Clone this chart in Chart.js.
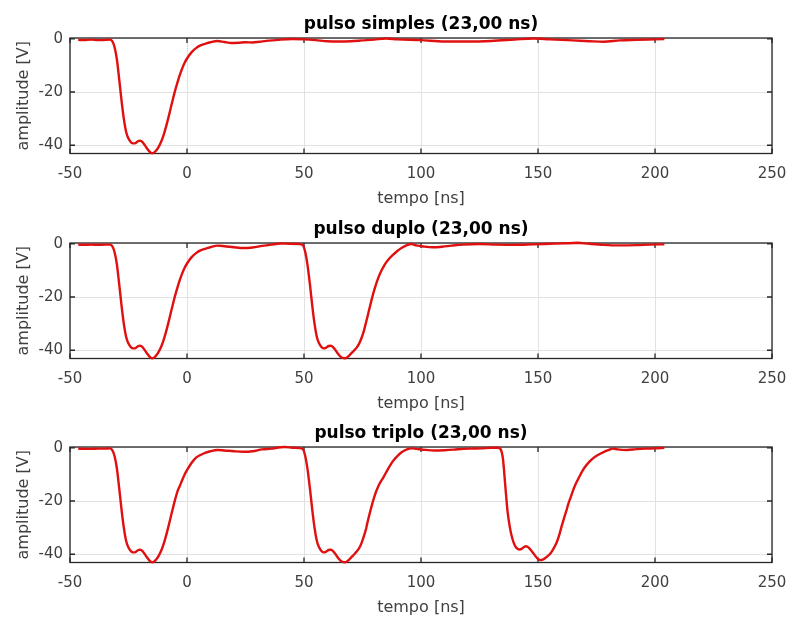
<!DOCTYPE html>
<html>
<head>
<meta charset="utf-8">
<script src="https://cdn.jsdelivr.net/npm/chart.js@4.4.1/dist/chart.umd.min.js"></script>
<style>
  html, body { margin: 0; padding: 0; background: #fff; overflow: hidden; }
  .painel { position: absolute; left: 0; width: 789px; height: 210px; }
</style>
</head>
<body>
<div class="painel" style="top:0px"><canvas id="graf1" width="789" height="210"></canvas></div>
<div class="painel" style="top:205px"><canvas id="graf2" width="789" height="210"></canvas></div>
<div class="painel" style="top:409px"><canvas id="graf3" width="789" height="210"></canvas></div>
<script>
const xTicks = [-50, 0, 50, 100, 150, 200, 250];
const yTicks = [-40, -20, 0];
const titulos = ['pulso simples (23,00 ns)', 'pulso duplo (23,00 ns)', 'pulso triplo (23,00 ns)'];

const tempoSimples = [-46.5,-44,-41,-38,-35,-33,-32,-31,-30,-29,-28,-27,-26,-25,-24,-23,-22,-21,-20,-19,-18,-17,-16,-15,-14,-13,-12,-11,-10,-9,-8,-7,-6,-5,-4,-3,-2,-1,0,2,4,6,8,10,13,16,19,22,25,28,31,35,40,45,50,55,60,65,70,75,80,85,90,100,110,120,130,140,148,155,165,172,178,185,192,200,204];
const ampSimples = [-0.4,-0.5,-0.3,-0.5,-0.4,-0.3,-0.8,-3,-7.5,-15,-23,-30,-35,-37.5,-38.8,-39.3,-39.2,-38.5,-38.3,-38.8,-40,-41.3,-42.4,-43,-42.7,-41.8,-40.4,-38.6,-36.2,-33.2,-29.8,-26.2,-22.6,-19.2,-16.2,-13.4,-11,-9,-7.4,-5,-3.4,-2.4,-1.8,-1.3,-0.8,-1.2,-1.6,-1.5,-1.3,-1.4,-1.1,-0.7,-0.3,-0.1,-0.2,-0.5,-0.9,-1,-0.9,-0.6,-0.3,0.1,-0.2,-0.5,-1,-1,-0.8,-0.3,0.1,-0.2,-0.6,-0.9,-1.1,-0.6,-0.4,-0.2,-0.1];

const tempoDuplo = [-46.5,-44,-41,-38,-35,-33,-32,-31,-30,-29,-28,-27,-26,-25,-24,-23,-22,-21,-20,-19,-18,-17,-16,-15,-14,-13,-12,-11,-10,-9,-8,-7,-6,-5,-4,-3,-2,-1,0,2,4,6,8,10,13,16,20,24,28,32,36,40,44,48,49.5,50.5,51.5,52.5,53.5,54.5,55.5,56.5,57.5,58.5,59.5,60.5,61.5,62.5,63.5,64.5,65.5,66.5,67.5,68.5,69.5,70.5,71.5,72.5,73.5,74.5,75.5,76.5,77.5,78.5,79.5,80.5,81.5,82.5,83.5,84.5,86,88,90,92,94,96,98,101,105,109,113,118,125,132,140,148,155,162,167,172,178,185,192,198,204];
const ampDuplo = [-0.3,-0.4,-0.3,-0.4,-0.3,-0.3,-0.8,-3,-7.5,-15,-23,-30,-35,-37.5,-38.8,-39.3,-39.2,-38.5,-38.3,-38.8,-40,-41.3,-42.4,-43,-42.7,-41.8,-40.4,-38.6,-36.2,-33.2,-29.8,-26.2,-22.6,-19.2,-16.2,-13.4,-11,-9,-7.4,-5,-3.4,-2.4,-1.8,-1.3,-0.7,-0.9,-1.3,-1.6,-1.4,-0.8,-0.3,0.1,0,-0.1,-0.5,-3,-8,-15,-23,-30,-35,-37.5,-38.8,-39.3,-39,-38.4,-38.3,-38.9,-40,-41.3,-42.3,-42.9,-43,-42.6,-41.8,-40.9,-40,-39,-37.6,-35.6,-33,-29.6,-26,-22.4,-19,-16,-13.4,-11.2,-9.4,-7.8,-6,-4.2,-2.6,-1.4,-0.5,-0.1,-0.6,-1,-1.3,-1.1,-0.7,-0.3,-0.1,-0.3,-0.4,-0.2,0,0.2,0.4,0,-0.4,-0.6,-0.5,-0.3,-0.2];

const tempoTriplo = [-46.5,-44,-41,-38,-35,-33,-32,-31,-30,-29,-28,-27,-26,-25,-24,-23,-22,-21,-20,-19,-18,-17,-16,-15,-14,-13,-12,-11,-10,-9,-8,-7,-6,-5,-4,-3,-2,-1,0,2,4,6,8,10,13,16,20,24,28,32,36,40,42,45,48,49.5,50.5,51.5,52.5,53.5,54.5,55.5,56.5,57.5,58.5,59.5,60.5,61.5,62.5,63.5,64.5,65.5,66.5,67.5,68.5,69.5,70.5,71.5,72.5,73.5,74.5,75.5,76.5,77,80,82,84,86,88,90,92,94,96,98,102,106,110,114,118,122,126,130,133,134,135,136,137,138,139,140,141,142,143,144,145,146,147,148,149,150,151,152,153,154,155,156,157,158,159,160,161,162,163,164,165,166,167,168,169,170,172,174,176,178,180,182,184,188,192,196,200,204];
const ampTriplo = [-0.3,-0.4,-0.4,-0.3,-0.3,-0.2,-0.8,-3,-7.5,-15,-23,-30,-35,-37.5,-38.8,-39.3,-39.2,-38.5,-38.3,-38.8,-40,-41.3,-42.4,-43,-42.7,-41.8,-40.4,-38.6,-36.2,-33.2,-29.8,-26.2,-22.6,-19.2,-16.2,-14.2,-12,-10,-8.4,-5.6,-3.6,-2.6,-1.8,-1.3,-0.8,-1,-1.3,-1.5,-1.3,-0.6,-0.3,0.2,0.3,0,-0.1,-0.5,-3,-8,-15,-23,-30,-35,-37.5,-38.8,-39.3,-39,-38.4,-38.3,-38.9,-40,-41.3,-42.3,-42.9,-43,-42.6,-41.8,-40.9,-40,-39,-37.8,-36,-33.5,-30.5,-28.5,-18.5,-14,-11,-7.8,-5,-3,-1.5,-0.6,-0.2,-0.4,-0.8,-1,-0.9,-0.7,-0.4,-0.3,-0.2,0,0,-0.5,-4,-14,-24,-30,-34,-36.5,-37.8,-38.2,-38,-37.3,-37,-37.5,-38.5,-39.6,-40.8,-41.8,-42.2,-42,-41.5,-40.8,-40,-38.8,-37.3,-35.5,-33,-29.8,-26.8,-24,-21,-18.5,-16,-13.8,-12,-10.3,-8.7,-7.3,-5.2,-3.6,-2.5,-1.6,-0.9,-0.3,-0.6,-0.8,-0.5,-0.3,-0.2,0];

Chart.defaults.font.family = '"DejaVu Sans", sans-serif';

// caixa do eixo com marcas para dentro (estilo matlab)
const moldura = {
    id: 'moldura',
    beforeDatasetsDraw(chart) {
        const { ctx, chartArea: a, scales } = chart;
        ctx.save();
        ctx.strokeStyle = '#262626';
        ctx.lineWidth = 1.3;
        ctx.strokeRect(a.left, a.top, a.right - a.left, a.bottom - a.top);
        ctx.beginPath();
        xTicks.forEach(v => {
            const px = scales.x.getPixelForValue(v);
            ctx.moveTo(px, a.bottom); ctx.lineTo(px, a.bottom - 5);
            ctx.moveTo(px, a.top); ctx.lineTo(px, a.top + 5);
        });
        yTicks.forEach(v => {
            const py = scales.y.getPixelForValue(v);
            ctx.moveTo(a.left, py); ctx.lineTo(a.left + 5, py);
            ctx.moveTo(a.right, py); ctx.lineTo(a.right - 5, py);
        });
        ctx.stroke();
        ctx.restore();
    }
};

function desenha(id, titulo, tempo, amp) {
    var ctx = document.getElementById(id).getContext('2d');
    var pontos = tempo.map((t, i) => ({ x: t, y: amp[i] }));
    return new Chart(ctx, {
        type: 'line',
        data: {
            datasets: [{
                data: pontos,
                borderColor: '#e01010',
                borderWidth: 2.4,
                pointRadius: 0,
                cubicInterpolationMode: 'monotone',
                clip: false
            }]
        },
        options: {
            responsive: false,
            animation: false,
            layout: { padding: { right: 17 } },
            plugins: {
                legend: { display: false },
                tooltip: { enabled: false },
                title: {
                    display: true,
                    text: titulo,
                    fullSize: false,
                    color: '#000',
                    font: { size: 17, weight: 'bold' },
                    padding: { top: 14.3, bottom: 3.3 }
                }
            },
            scales: {
                x: {
                    type: 'linear',
                    min: -50,
                    max: 250,
                    afterBuildTicks: s => { s.ticks = xTicks.map(v => ({ value: v })); },
                    afterFit: s => { s.height = 56.5; s.paddingLeft = 0; s.paddingRight = 0; },
                    grid: { color: '#e2e2e2', drawTicks: false },
                    border: { display: false },
                    ticks: { color: '#404040', font: { size: 15 }, padding: 12, maxRotation: 0 },
                    title: { display: true, text: 'tempo [ns]', color: '#404040', font: { size: 16 }, padding: { top: 0, bottom: 2 } }
                },
                y: {
                    min: -43.1,
                    max: 0.3,
                    afterBuildTicks: s => { s.ticks = yTicks.map(v => ({ value: v })); },
                    afterFit: s => { s.width = 70; s.paddingTop = 0; s.paddingBottom = 0; },
                    grid: { color: '#e2e2e2', drawTicks: false },
                    border: { display: false },
                    ticks: { color: '#404040', font: { size: 15 }, padding: 7 },
                    title: { display: true, text: 'amplitude [V]', color: '#404040', font: { size: 16 }, padding: { top: 14.4, bottom: 0 } }
                }
            }
        },
        plugins: [moldura]
    });
}

desenha('graf1', titulos[0], tempoSimples, ampSimples);
desenha('graf2', titulos[1], tempoDuplo, ampDuplo);
desenha('graf3', titulos[2], tempoTriplo, ampTriplo);
</script>
</body>
</html>
